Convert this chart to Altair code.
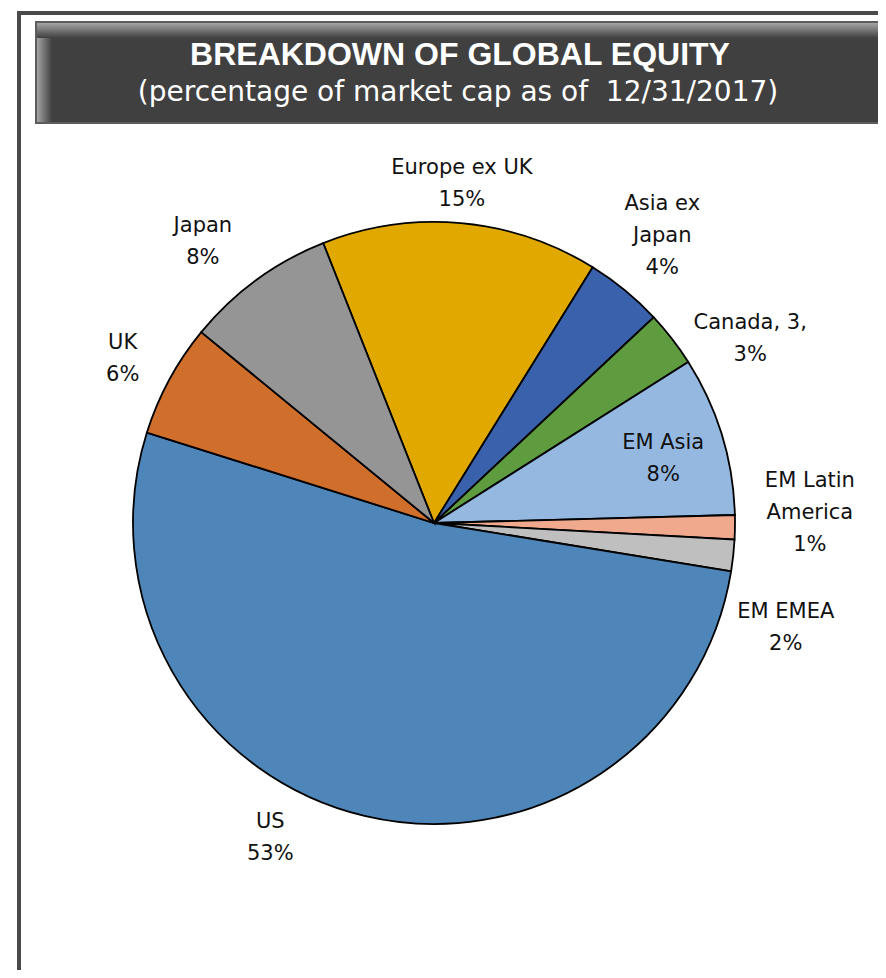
import math
import altair as alt
import pandas as pd

# ---------------- data ----------------
CATEGORIES = ["Europe ex UK", "Asia ex Japan", "Canada", "EM Asia",
              "EM Latin America", "EM EMEA", "US", "UK", "Japan"]
VALUES = [14.9, 4.2, 3.0, 8.6, 1.3, 1.7, 52.5, 6.1, 8.1]
LABELS = ["Europe ex UK\n15%", "Asia  ex\nJapan\n4%", "Canada, 3,\n3%",
          "EM Asia\n8%", "EM Latin\nAmerica\n1%", "EM EMEA\n2%",
          "US\n53%", "UK\n6%", "Japan\n8%"]
TITLE = "BREAKDOWN OF GLOBAL EQUITY"
SUBTITLE = "(percentage of market cap as of \u00a012/31/2017)"

# ---------------- style / layout ----------------
COLORS = ["#E1A900", "#3A61AB", "#5F9B3F", "#95B8E0", "#F0A98D",
          "#BFBFBF", "#4E86BA", "#D06F2C", "#959595"]
W, H = 870, 962
CX, CY, R = 426, 515, 301
START_DEG = -21.6
LABEL_NUDGE = [-0.4, -0.9, 7.5, 1.3, -2.3, 10.4, 14.1, -0.6, -3.3]
LABEL_R = [340, 367, 366, 238, 376, 367, 355, 352, 364]
LINE_H = 32
LABEL_FONT = "DejaVu Sans"
TITLE_FONT = "Liberation Sans"

df = pd.DataFrame({
    "category": CATEGORIES,
    "value": VALUES,
    "label": LABELS,
    "idx": list(range(len(CATEGORIES))),
    "nudge": LABEL_NUDGE,
    "lr": LABEL_R,
})
one = pd.DataFrame({"t": [0]})

start = math.radians(START_DEG)

frame = alt.Chart(one).mark_rect(fill="transparent", stroke="#4a4a4a", strokeWidth=4).encode(
    x=alt.value(11), x2=alt.value(900), y=alt.value(5), y2=alt.value(1000))

banner = alt.Chart(one).mark_rect(fill="#404040", stroke="#5c5c5c", strokeWidth=2).encode(
    x=alt.value(28), x2=alt.value(880), y=alt.value(14), y2=alt.value(115))

grad_h = alt.LinearGradient(gradient="linear", x1=0, x2=1, y1=0, y2=0,
                            stops=[alt.GradientStop(color="#a4a4a4", offset=0),
                                   alt.GradientStop(color="#404040", offset=1)])
grad_v = alt.LinearGradient(gradient="linear", x1=0, x2=0, y1=0, y2=1,
                            stops=[alt.GradientStop(color="#a4a4a4", offset=0),
                                   alt.GradientStop(color="#404040", offset=1)])
left_strip = alt.Chart(one).mark_rect(fill=grad_h).encode(
    x=alt.value(29), x2=alt.value(44), y=alt.value(15), y2=alt.value(114))
top_strip = alt.Chart(one).mark_rect(fill=grad_v).encode(
    x=alt.value(29), x2=alt.value(879), y=alt.value(15), y2=alt.value(30))

title = alt.Chart(one).mark_text(text=TITLE, font=TITLE_FONT, fontSize=32, fontWeight="bold",
                                 color="white", align="center", baseline="alphabetic").encode(
    x=alt.value(452), y=alt.value(57))
subtitle = alt.Chart(one).mark_text(text=SUBTITLE, font="DejaVu Sans", fontSize=28,
                                    color="white", align="center", baseline="alphabetic").encode(
    x=alt.value(450), y=alt.value(93))

pie = alt.Chart(df).mark_arc(outerRadius=R, stroke="black", strokeWidth=1.8).encode(
    theta=alt.Theta("value:Q", stack=True,
                    scale=alt.Scale(range=[start, start + 2 * math.pi])),
    color=alt.Color("category:N", scale=alt.Scale(domain=CATEGORIES, range=COLORS), legend=None),
    order=alt.Order("idx:Q"),
    x=alt.value(CX), y=alt.value(CY),
)

labels = (
    alt.Chart(df)
    .transform_window(cum="sum(value)", sort=[alt.SortField("idx")], frame=[None, 0])
    .transform_joinaggregate(total="sum(value)")
    .transform_calculate(ang=f"((datum.cum - datum.value/2)/datum.total*360 + ({START_DEG}) + datum.nudge) * PI / 180")
    .transform_calculate(nl="length(split(datum.label, '\\n'))")
    .transform_calculate(lx=f"{CX} + datum.lr * sin(datum.ang)")
    .transform_calculate(ly=f"{CY} - datum.lr * cos(datum.ang) - (datum.nl - 1) * {LINE_H} / 2")
    .mark_text(font=LABEL_FONT, fontSize=21, lineBreak="\n", lineHeight=LINE_H,
               align="center", baseline="middle", color="#111111")
    .encode(x=alt.X("lx:Q", scale=None, axis=None),
            y=alt.Y("ly:Q", scale=None, axis=None),
            text="label:N")
)

chart = alt.layer(frame, banner, left_strip, top_strip, title, subtitle, pie, labels).properties(
    width=W, height=H, padding=0, autosize="none", background="white"
).configure_view(stroke=None)

chart.save("out.html", embed_options={"renderer": "svg", "actions": False})
